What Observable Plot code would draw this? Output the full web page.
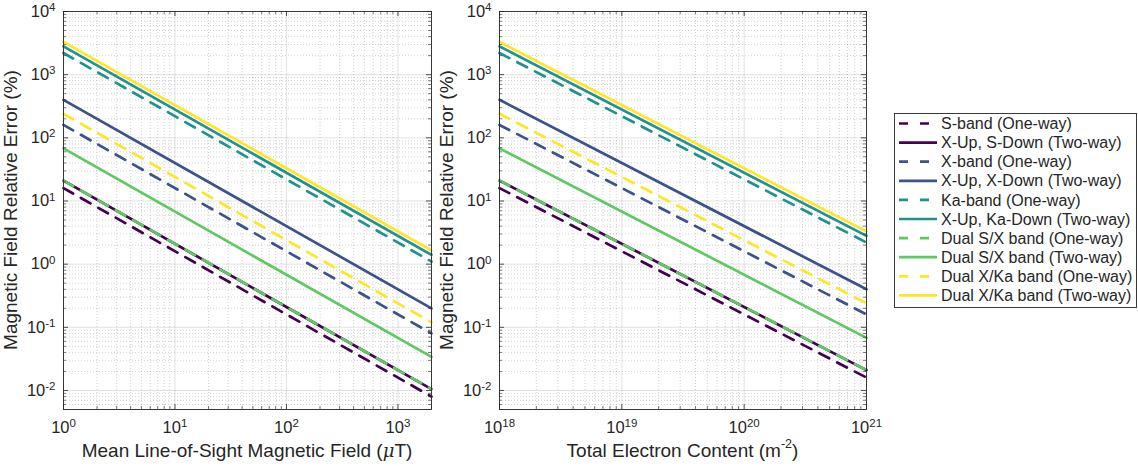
<!DOCTYPE html>
<html>
<head>
<meta charset="utf-8">
<script src="https://cdn.jsdelivr.net/npm/d3@7"></script>
<script src="https://cdn.jsdelivr.net/npm/@observablehq/plot@0.6"></script>
<style>
  body { margin: 0; background: #fff; font-family: "Liberation Sans", Arial, Helvetica, sans-serif; }
  #wrap { position: relative; width: 1138px; height: 466px; overflow: hidden; background: #fff; }
  #wrap > svg { position: absolute; top: 0; max-width: none; }
</style>
</head>
<body>
<div id="wrap"></div>
<script>
// ---- data ----
const bandNames = [
  "S-band (One-way)", "X-Up, S-Down (Two-way)",
  "X-band (One-way)", "X-Up, X-Down (Two-way)",
  "Ka-band (One-way)", "X-Up, Ka-Down (Two-way)",
  "Dual S/X band (One-way)", "Dual S/X band (Two-way)",
  "Dual X/Ka band (One-way)", "Dual X/Ka band (Two-way)"
];
const bandColors = ["#440154", "#440154", "#3b528b", "#3b528b", "#21918c", "#21918c", "#5ec962", "#5ec962", "#fde725", "#fde725"];
const bandDashed = [true, false, true, false, true, false, true, false, true, false];

// Left panel: mean line-of-sight magnetic field (uT)
const fieldLimits = [1, 2000];
const fieldErrStart = [16, 21, 160, 400, 2200, 2800, 21, 68, 240, 3300];
const fieldErrEnd = [0.008, 0.0105, 0.08, 0.2, 1.1, 1.4, 0.0105, 0.034, 0.12, 1.65];

// Right panel: total electron content (m^-2)
const tecLimits = [1e18, 1e21];
const tecErrStart = [16, 21, 160, 400, 2200, 2800, 21, 68, 240, 3300];
const tecErrEnd = [0.016, 0.021, 0.16, 0.4, 2.2, 2.8, 0.021, 0.068, 0.24, 3.3];

const errorLimits = [0.005, 1e4];
const errorTickExps = [-2, -1, 0, 1, 2, 3, 4];
const fieldTickExps = [0, 1, 2, 3];
const tecTickExps = [18, 19, 20, 21];

// ---- helpers ----
const AX = "#262626";
const FONT = "'Liberation Sans', Arial, Helvetica, sans-serif";

function minorTicks([lo, hi]) {
  const out = [];
  for (let p = Math.floor(Math.log10(lo)); p <= Math.ceil(Math.log10(hi)); p++) {
    for (let k = 2; k <= 9; k++) {
      const v = +(k * Math.pow(10, p)).toPrecision(6);
      if (v >= lo * 0.9999 && v <= hi * 1.0001) out.push(v);
    }
  }
  return out;
}
function rowsFor(limits, s, e) {
  return bandNames.flatMap((name, i) => [
    {band: i, x: limits[0], y: s[i]},
    {band: i, x: limits[1], y: e[i]}
  ]);
}
const expFormat = d => `10^${Math.round(Math.log10(d))}`;

function superscriptify(svg) {
  d3.select(svg).selectAll("text").each(function () {
    const m = /^10\^(-?\d+)$/.exec(this.textContent.trim());
    if (!m) return;
    const sel = d3.select(this);
    sel.text("");
    sel.append("tspan").text("10");
    sel.append("tspan").attr("font-size", "11.5px").attr("dy", "-0.5em").text(m[1]);
  });
}

function panel({xLimits, xExps, start, end, svgLeft, svgWidth, marginLeft, plotWidth, yLabelX, xLabelBuilder}) {
  const H = 466, mt = 11, mb = 57;
  const frameH = H - mt - mb;
  const marginRight = svgWidth - marginLeft - plotWidth;
  const xMajor = xExps.map(p => Math.pow(10, p));
  const yMajor = errorTickExps.map(p => Math.pow(10, p));
  const xMinor = minorTicks(xLimits), yMinor = minorTicks(errorLimits);
  const rows = rowsFor(xLimits, start, end);

  const marks = [
    Plot.ruleX(xMinor, {x: d => d, stroke: AX, strokeOpacity: 0.3, strokeWidth: 0.7, strokeDasharray: "1,2"}),
    Plot.ruleY(yMinor, {y: d => d, stroke: AX, strokeOpacity: 0.3, strokeWidth: 0.7, strokeDasharray: "1,2"}),
    Plot.ruleX(xMajor, {x: d => d, stroke: AX, strokeOpacity: 0.17, strokeWidth: 0.8}),
    Plot.ruleY(yMajor, {y: d => d, stroke: AX, strokeOpacity: 0.17, strokeWidth: 0.8}),
    ...bandNames.map((_, i) => Plot.line(rows.filter(r => r.band === i), {
      x: "x", y: "y", stroke: bandColors[i], strokeWidth: 2.7,
      ...(bandDashed[i] ? {strokeDasharray: "11,9"} : {})
    })),
    // inward ticks on all four sides
    Plot.tickX(xMajor, {x: d => d, stroke: AX, strokeWidth: 0.8, insetTop: frameH - 5}),
    Plot.tickX(xMajor, {x: d => d, stroke: AX, strokeWidth: 0.8, insetBottom: frameH - 5}),
    Plot.tickX(xMinor, {x: d => d, stroke: AX, strokeWidth: 0.6, insetTop: frameH - 3}),
    Plot.tickX(xMinor, {x: d => d, stroke: AX, strokeWidth: 0.6, insetBottom: frameH - 3}),
    Plot.tickY(yMajor, {y: d => d, stroke: AX, strokeWidth: 0.8, insetRight: plotWidth - 5}),
    Plot.tickY(yMajor, {y: d => d, stroke: AX, strokeWidth: 0.8, insetLeft: plotWidth - 5}),
    Plot.tickY(yMinor, {y: d => d, stroke: AX, strokeWidth: 0.6, insetRight: plotWidth - 3}),
    Plot.tickY(yMinor, {y: d => d, stroke: AX, strokeWidth: 0.6, insetLeft: plotWidth - 3}),
    Plot.frame({stroke: AX, strokeWidth: 0.9}),
    Plot.axisX(xMajor, {tickSize: 0, tickPadding: 12, tickFormat: expFormat, label: null, fontSize: 16.5}),
    Plot.axisY(yMajor, {tickSize: 0, tickPadding: 8, tickFormat: expFormat, label: null, fontSize: 16.5})
  ];

  const svg = Plot.plot({
    width: svgWidth, height: H,
    marginLeft, marginRight, marginTop: mt, marginBottom: mb,
    x: {type: "log", domain: xLimits},
    y: {type: "log", domain: errorLimits},
    style: {fontFamily: FONT, fontSize: "16.5px", color: AX, background: "transparent", overflow: "visible"},
    marks
  });
  svg.style.left = svgLeft + "px";
  superscriptify(svg);

  const g = d3.select(svg).append("g").attr("fill", AX).attr("font-family", FONT).attr("font-size", "19px");
  // y label
  g.append("text")
    .attr("transform", `translate(${yLabelX},${mt + frameH / 2}) rotate(-90)`)
    .attr("text-anchor", "middle")
    .text("Magnetic Field Relative Error (%)");
  // x label
  const xl = g.append("text")
    .attr("x", marginLeft + plotWidth / 2)
    .attr("y", 457)
    .attr("text-anchor", "middle");
  xLabelBuilder(xl);
  return svg;
}

const wrap = document.getElementById("wrap");

wrap.appendChild(panel({
  xLimits: fieldLimits, xExps: fieldTickExps, start: fieldErrStart, end: fieldErrEnd,
  svgLeft: 0, svgWidth: 460, marginLeft: 63, plotWidth: 368, yLabelX: 17,
  xLabelBuilder: t => {
    t.append("tspan").text("Mean Line-of-Sight Magnetic Field (");
    t.append("tspan").attr("font-style", "italic").attr("font-family", "'DejaVu Serif', serif").attr("font-size", "18px").text("\u03bc");
    t.append("tspan").text("T)");
  }
}));

wrap.appendChild(panel({
  xLimits: tecLimits, xExps: tecTickExps, start: tecErrStart, end: tecErrEnd,
  svgLeft: 440, svgWidth: 450, marginLeft: 59, plotWidth: 367, yLabelX: 13,
  xLabelBuilder: t => {
    t.append("tspan").text("Total Electron Content (m");
    t.append("tspan").attr("font-size", "12.5px").attr("dy", "-0.75em").text("-2");
    t.append("tspan").attr("dy", "0.49em").text(")");
  }
}));

// ---- legend ----
const lg = d3.create("svg")
  .attr("width", 244).attr("height", 196)
  .style("left", "894px").style("top", "113px")
  .style("position", "absolute");
lg.append("rect").attr("x", 0.5).attr("y", 0.5).attr("width", 242).attr("height", 194)
  .attr("fill", "#fff").attr("stroke", AX).attr("stroke-width", 0.9);
bandNames.forEach((name, i) => {
  const cy = 10.5 + i * 19.1;
  lg.append("line").attr("x1", 5).attr("x2", 43).attr("y1", cy).attr("y2", cy)
    .attr("stroke", bandColors[i]).attr("stroke-width", 2.7)
    .attr("stroke-dasharray", bandDashed[i] ? "9,12" : null);
  lg.append("text").attr("x", 47).attr("y", cy).attr("dy", "0.35em")
    .attr("font-family", FONT).attr("font-size", "16px").attr("fill", AX)
    .text(name);
});
wrap.appendChild(lg.node());
</script>
</body>
</html>
